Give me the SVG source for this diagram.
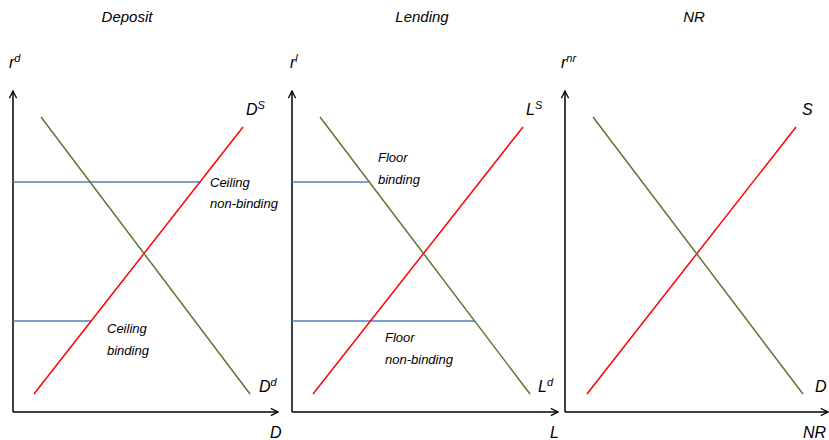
<svg xmlns="http://www.w3.org/2000/svg" width="829" height="440" viewBox="0 0 829 440">
<defs>
<style>
text{font-family:"Liberation Sans",Arial,sans-serif;font-style:italic;fill:#000}
.t{font-size:15px}
.lb{font-size:13px}
.ax{font-size:16px}
.sup{font-size:11px}
.axis{stroke:#000;stroke-width:1.5;fill:none}
.sup-l{stroke:#ff0000;stroke-width:1.5;fill:none}
.dem{stroke:#5f7536;stroke-width:1.5;fill:none}
.cap{stroke:#4f81bd;stroke-width:1.3;fill:none}
</style>
<marker id="ah" viewBox="0 0 10 10" refX="9" refY="5" markerWidth="9" markerHeight="9" markerUnits="userSpaceOnUse" orient="auto">
<path d="M1,1 L9,5 L1,9" fill="none" stroke="#000" stroke-width="1.4"/>
</marker>
</defs>
<rect width="829" height="440" fill="#fff"/>

<g id="deposit">
<text class="t" x="127" y="22" text-anchor="middle">Deposit</text>
<text class="ax" x="9" y="68">r<tspan class="sup" dy="-6">d</tspan></text>
<path class="axis" d="M13,412 L13,91" marker-end="url(#ah)"/>
<path class="axis" d="M13,412 L278,412" marker-end="url(#ah)"/>
<line class="cap" x1="13" y1="182" x2="201" y2="182"/>
<line class="cap" x1="13" y1="321" x2="91" y2="321"/>
<line class="sup-l" x1="34" y1="394" x2="243" y2="127"/>
<line class="dem" x1="41" y1="117" x2="250" y2="394"/>
<text class="ax" x="246" y="115">D<tspan class="sup" dy="-6">S</tspan></text>
<text class="ax" x="259" y="392">D<tspan class="sup" dy="-6">d</tspan></text>
<text class="ax" x="270" y="438">D</text>
<text class="lb" x="210" y="187">Ceiling</text>
<text class="lb" x="210" y="208">non-binding</text>
<text class="lb" x="107" y="333">Ceiling</text>
<text class="lb" x="107" y="355">binding</text>
</g>

<g id="lending">
<text class="t" x="422" y="22" text-anchor="middle">Lending</text>
<text class="ax" x="290" y="68">r<tspan class="sup" dy="-6">l</tspan></text>
<path class="axis" d="M292,412 L292,91" marker-end="url(#ah)"/>
<path class="axis" d="M292,412 L558,412" marker-end="url(#ah)"/>
<line class="cap" x1="292" y1="182" x2="370" y2="182"/>
<line class="cap" x1="292" y1="321" x2="475" y2="321"/>
<line class="sup-l" x1="313" y1="394" x2="523" y2="127"/>
<line class="dem" x1="320" y1="117" x2="530" y2="394"/>
<text class="ax" x="526" y="115">L<tspan class="sup" dy="-6">S</tspan></text>
<text class="ax" x="538" y="392">L<tspan class="sup" dy="-6">d</tspan></text>
<text class="ax" x="550" y="438">L</text>
<text class="lb" x="378" y="162">Floor</text>
<text class="lb" x="378" y="184">binding</text>
<text class="lb" x="385" y="342">Floor</text>
<text class="lb" x="385" y="364">non-binding</text>
</g>

<g id="nr">
<text class="t" x="694" y="22" text-anchor="middle">NR</text>
<text class="ax" x="561" y="68">r<tspan class="sup" dy="-6">nr</tspan></text>
<path class="axis" d="M565,412 L565,91" marker-end="url(#ah)"/>
<path class="axis" d="M565,412 L828,412" marker-end="url(#ah)"/>
<line class="sup-l" x1="587" y1="394" x2="796" y2="127"/>
<line class="dem" x1="593" y1="117" x2="803" y2="394"/>
<text class="ax" x="802" y="115">S</text>
<text class="ax" x="815" y="392">D</text>
<text class="ax" x="803" y="438">NR</text>
</g>
</svg>
